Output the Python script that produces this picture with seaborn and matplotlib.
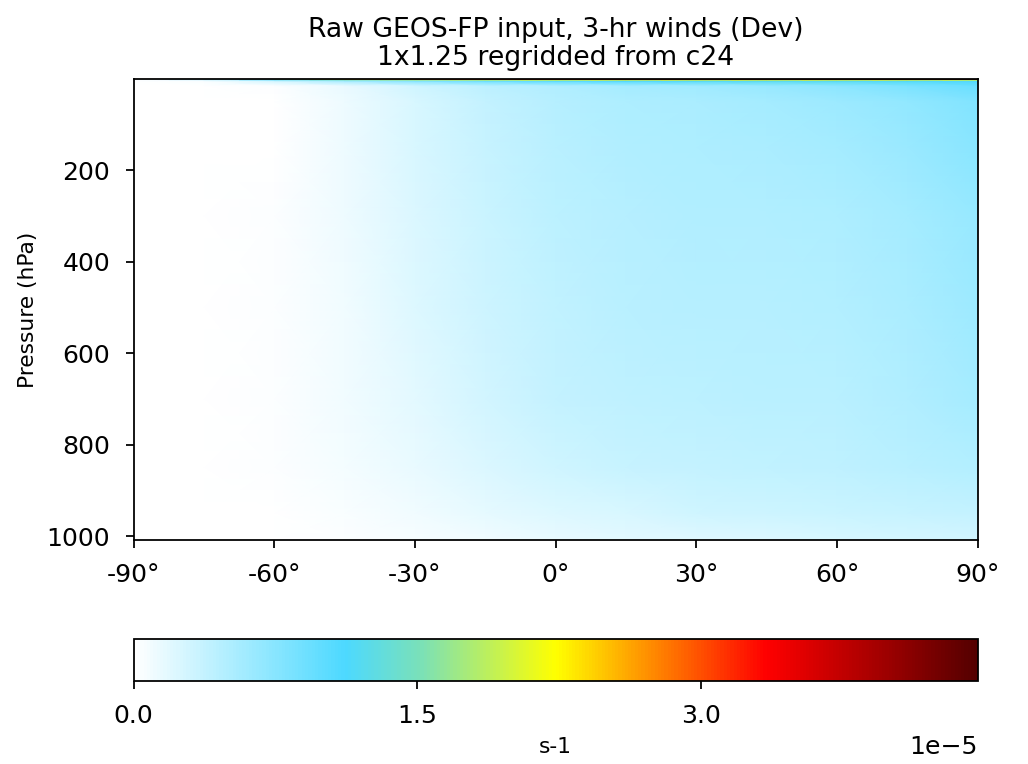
import numpy as np
import matplotlib
matplotlib.use("Agg")
import matplotlib.pyplot as plt
import seaborn as sns
from matplotlib.colors import LinearSegmentedColormap

# latitude nodes (deg) and pressure nodes (hPa)
lats = [-90, -75, -60, -45, -30, -15, 0, 15, 30, 45, 60, 75, 90]
levels = [1009, 950, 850, 700, 500, 300, 150, 50, 15, 5, 2, 0.5, 0.01]

# zonal mean values, 1e-5 s-1, one row per pressure node (bottom -> top)
row_1009 = [0, 0, 0.00, 0.02, 0.06, 0.10, 0.14, 0.18, 0.20, 0.22, 0.25, 0.27, 0.28]
row_950 = [0, 0, 0.01, 0.04, 0.10, 0.16, 0.22, 0.26, 0.30, 0.32, 0.34, 0.36, 0.38]
row_850 = [0, 0, 0.02, 0.07, 0.15, 0.24, 0.31, 0.35, 0.37, 0.39, 0.41, 0.44, 0.48]
row_700 = [0, 0, 0.03, 0.09, 0.19, 0.29, 0.37, 0.41, 0.43, 0.44, 0.45, 0.49, 0.56]
row_500 = [0, 0, 0.03, 0.10, 0.21, 0.32, 0.40, 0.44, 0.46, 0.47, 0.48, 0.53, 0.62]
row_300 = [0, 0, 0.02, 0.11, 0.23, 0.34, 0.43, 0.47, 0.49, 0.50, 0.52, 0.57, 0.66]
row_150 = [0, 0, 0.01, 0.12, 0.25, 0.36, 0.45, 0.49, 0.51, 0.53, 0.57, 0.64, 0.74]
row_50 = [0, 0, 0.01, 0.12, 0.26, 0.37, 0.46, 0.51, 0.54, 0.57, 0.61, 0.68, 0.80]
row_15 = [0, 0, 0.02, 0.15, 0.30, 0.42, 0.50, 0.56, 0.60, 0.65, 0.72, 0.82, 0.95]
row_5 = [0, 0.05, 0.30, 0.60, 0.80, 0.95, 1.05, 1.10, 1.15, 1.20, 1.20, 1.15, 1.10]
row_2 = [0, 0.30, 1.00, 1.50, 1.80, 2.00, 2.20, 2.30, 2.30, 2.30, 2.30, 2.30, 2.20]
row_05 = [0, 0.60, 1.50, 2.30, 2.80, 3.20, 3.50, 3.70, 3.90, 4.00, 4.10, 4.20, 4.30]
row_001 = [0, 0.80, 1.80, 2.80, 3.30, 3.80, 4.10, 4.30, 4.40, 4.45, 4.45, 4.45, 4.45]

vmax = 4.46e-5
cbar_ticks = [0.0, 1.5e-5, 3.0e-5]
xtick_vals = [-90, -60, -30, 0, 30, 60, 90]
ytick_vals = [200, 400, 600, 800, 1000]

field = np.array([row_1009, row_950, row_850, row_700, row_500, row_300, row_150,
                  row_50, row_15, row_5, row_2, row_05, row_001]) * 1e-5

# white -> cyan -> yellow -> red -> dark red
cmap = LinearSegmentedColormap.from_list("WhGrYlRd", [
    (0.0, (1.0, 1.0, 1.0)),
    (0.25, (0.30, 0.85, 1.0)),
    (0.34, (0.48, 0.88, 0.72)),
    (0.50, (1.0, 1.0, 0.0)),
    (0.62, (1.0, 0.52, 0.0)),
    (0.75, (1.0, 0.0, 0.0)),
    (1.0, (0.33, 0.0, 0.0)),
])

sns.set_style("ticks")
plt.rcParams["font.family"] = ["DejaVu Sans"]
for key in ["text.color", "axes.labelcolor", "xtick.color", "ytick.color", "axes.edgecolor"]:
    plt.rcParams[key] = "black"

# original looks like a default 6.4x4.8 figure saved at ~160 dpi
fig = plt.figure(figsize=(6.425, 4.775), dpi=160)
ax = fig.add_axes([0.130, 0.293, 0.821, 0.604])
LON, LEV = np.meshgrid(lats, levels)
mesh = ax.pcolormesh(LON, LEV, field, cmap=cmap, vmin=0, vmax=vmax, shading="gouraud")
ax.set_xlim(-90, 90)
ax.set_ylim(max(levels), min(levels))
ax.set_xticks(xtick_vals)
ax.set_xticklabels([f"{v}\u00b0" for v in xtick_vals])
ax.set_yticks(ytick_vals)
ax.tick_params(labelsize=11.3, length=3.5, width=0.8, pad=7, direction="out")
for s in ax.spines.values():
    s.set_linewidth(0.8)
ax.set_ylabel("Pressure (hPa)", fontsize=9.8)
ax.set_title("Raw GEOS-FP input, 3-hr winds (Dev)\n1x1.25 regridded from c24",
             fontsize=12, pad=6, linespacing=1.1)

cax = fig.add_axes([0.130, 0.109, 0.821, 0.055])
cb = fig.colorbar(mesh, cax=cax, orientation="horizontal")
cb.set_ticks(cbar_ticks)
cb.ax.tick_params(labelsize=11.3, length=3.5, width=0.8, pad=7)
cb.ax.xaxis.get_offset_text().set_fontsize(11.3)
cb.outline.set_linewidth(0.8)
cb.set_label("s-1", fontsize=9.8)

fig.savefig("out.png", dpi=160)
